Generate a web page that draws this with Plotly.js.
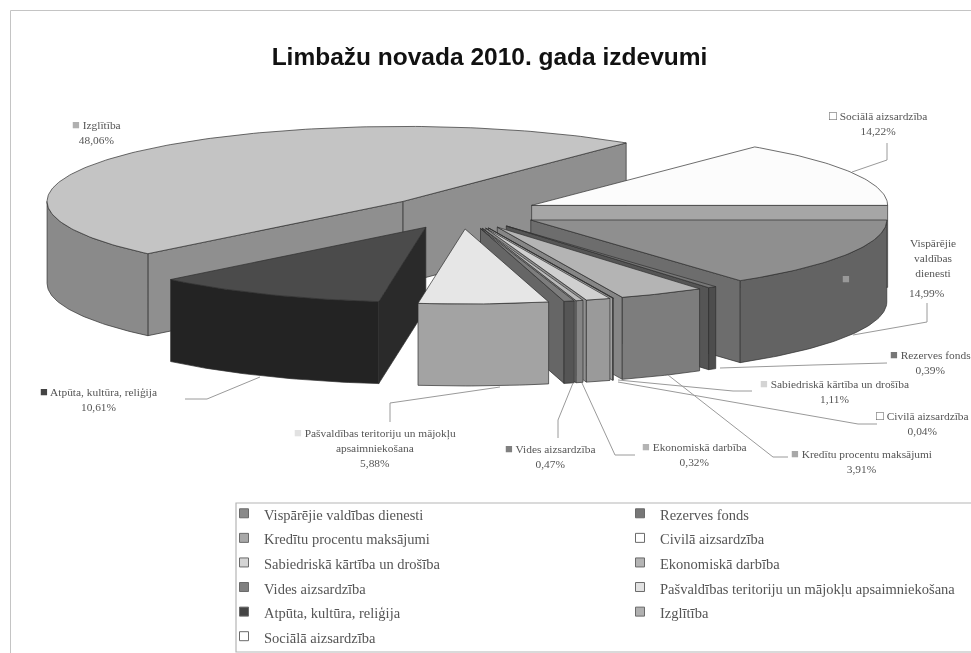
<!DOCTYPE html>
<html><head><meta charset="utf-8">
<script src="https://cdn.plot.ly/plotly-3.0.1.min.js"></script>
<style>html,body{margin:0;padding:0;background:#fff}#c{width:971px;height:653px;filter:blur(0.45px)}</style>
</head><body><div id="c"></div>
<script>
const names = ["Vispārējie valdības dienesti","Rezerves fonds","Kredītu procentu maksājumi","Civilā aizsardzība","Sabiedriskā kārtība un drošība","Ekonomiskā darbība","Vides aizsardzība","Pašvaldības teritoriju un mājokļu apsaimniekošana","Atpūta, kultūra, reliģija","Izglītība","Sociālā aizsardzība"];
const values = [14.99,0.39,3.91,0.04,1.11,0.32,0.47,5.88,10.61,48.06,14.22];
const topColors = ["#8f8f8f","#777777","#b4b4b4","#f5f5f5","#d0d0d0","#b9b9b9","#7d7d7d","#e6e6e6","#4b4b4b","#c4c4c4","#fcfcfc"];
const wallColors = ["#636363","#4d4d4d","#7d7d7d","#a0a0a0","#9a9a9a","#858585","#555555","#a3a3a3","#232323","#8a8a8a","#a6a6a6"];
const faceColors = ["#6d6d6d","#555555","#868686","#a0a0a0","#909090","#8a8a8a","#666666","#a3a3a3","#2a2a2a","#8f8f8f","#a6a6a6"];
const paintOrder = [9,10,8,0,1,2,3,4,5,6,7];
const legendCol1 = [0,2,4,6,8,10];
const legendCol2 = [1,3,5,7,9];
const keyColors = ["#8a8a8a","#777777","#a8a8a8","#ffffff","#d4d4d4","#b4b4b4","#808080","#e2e2e2","#444444","#b0b0b0","#ffffff"];

/* projection of the exploded 3-D pie */
const CX=461, CY=212.5, RX=356, RY=75, H=82, EXPLODE=0.22, START=90;
const rad=d=>d*Math.PI/180;
const total=values.reduce((a,b)=>a+b,0);
let acc=START;
const slices=values.map(v=>{const s=acc;acc+=v/total*360;return{s,e:acc};});
const traces=[];
function poly(xs,ys,color){
  traces.push({type:"scatter",mode:"lines",x:xs.concat(xs[0]),y:ys.concat(ys[0]),fill:"toself",fillcolor:color,
    line:{color:"#2f2f2f",width:0.7},hoverinfo:"skip",showlegend:false});
}
function rim(ax,ay,a){return [ax+RX*Math.sin(rad(a)),ay-RY*Math.cos(rad(a))];}
function arc(ax,ay,s,e){const pts=[];const n=Math.max(2,Math.ceil((e-s)));for(let i=0;i<=n;i++)pts.push(rim(ax,ay,s+(e-s)*i/n));return pts;}
paintOrder.forEach(i=>{
  const {s,e}=slices[i],m=(s+e)/2;
  const ax=CX+EXPLODE*RX*Math.sin(rad(m)), ay=CY-EXPLODE*RY*Math.cos(rad(m));
  [[s,Math.sin(rad(s))<0],[e,Math.sin(rad(e))>0]].forEach(([a,vis])=>{
    if(!vis)return;
    const p=rim(ax,ay,a);
    poly([ax,p[0],p[0],ax],[ay,p[1],p[1]+H,ay+H],faceColors[i]);
  });
  for(let k=0;k<2;k++){
    const lo=Math.max(s,90+360*k),hi=Math.min(e,270+360*k);
    if(hi>lo){
      const p=arc(ax,ay,lo,hi),xs=p.map(q=>q[0]),ys=p.map(q=>q[1]);
      poly(xs.concat(xs.slice().reverse()),ys.concat(ys.slice().reverse().map(y=>y+H)),wallColors[i]);
    }
  }
  const p=arc(ax,ay,s,e);
  poly([ax].concat(p.map(q=>q[0])),[ay].concat(p.map(q=>q[1])),topColors[i]);
});
function legendTrace(i,leg){
  traces.push({type:"scatter",mode:"markers",x:[null],y:[null],name:'<span style="font-size:14.5px">'+names[i]+'</span>',legend:leg,
    marker:{symbol:"square",size:9,color:keyColors[i],line:{color:"#6a6a6a",width:1}},hoverinfo:"skip"});
}
legendCol1.forEach(i=>legendTrace(i,"legend"));
legendCol2.forEach(i=>legendTrace(i,"legend2"));

const pct=i=>values[i].toFixed(2).replace(".",",")+"%";
const key=i=>'<span style="font-size:13px;color:'+(keyColors[i]==="#ffffff"?"#555":keyColors[i])+'">'+(keyColors[i]==="#ffffff"?"□":"■")+'</span> ';
const TXT={family:"Liberation Serif",size:11.4,color:"#555"};
function note(x,y,text){return {x,y,xref:"x",yref:"y",text,showarrow:false,font:TXT,xanchor:"center",yanchor:"middle",align:"center"};}
const annotations=[
 note(96,131,key(9)+names[9]+"<br>"+pct(9)),
 note(878,122,key(10)+names[10]+"<br>"+pct(10)),
 note(933,258,"Vispārējie<br>valdības<br>dienesti"),
 note(927,293,pct(0)),
 note(846,278,'<span style="font-size:13px;color:#999">■</span>'),
 note(930,361,key(1)+names[1]+"<br>"+pct(1)),
 note(834,390,key(4)+names[4]+"<br>"+pct(4)),
 note(922,422,key(3)+names[3]+"<br>"+pct(3)),
 note(861,460,key(2)+names[2]+"<br>"+pct(2)),
 note(694,453,key(5)+names[5]+"<br>"+pct(5)),
 note(550,455,key(6)+names[6]+"<br>"+pct(6)),
 note(375,447,key(7)+"Pašvaldības teritoriju un mājokļu<br>apsaimniekošana<br>"+pct(7)),
 note(98,398,key(8)+names[8]+"<br>"+pct(8))
];
const leaders=[
 "M185,399L207,399L260,377","M390,422L390,403L500,387","M558,438L558,420L573,383","M635,455L615,455L582,383",
 "M788,457L773,457L668,375","M877,424L858,424L618,382","M752,391L733,391L618,380","M887,363L813,365L720,368",
 "M927,303L927,322L853,335","M887,143L887,160L852,172"
];
const shapes=leaders.map(path=>({type:"path",path,xref:"x",yref:"y",line:{color:"#9a9a9a",width:1}}));
shapes.push({type:"rect",xref:"x",yref:"y",x0:10.5,y0:10.5,x1:985,y1:670,line:{color:"#c4c4c4",width:1},layer:"below"});
shapes.push({type:"rect",xref:"x",yref:"y",x0:236,y0:503,x1:985,y1:652,line:{color:"#b5b5b5",width:1.2},fillcolor:"rgba(0,0,0,0)"});
const legFont={family:"Liberation Serif",size:16.6,color:"#555"};
const layout={
 width:971,height:653,margin:{l:0,r:0,t:0,b:0,autoexpand:false},paper_bgcolor:"#fff",plot_bgcolor:"#fff",
 title:{text:"Limbažu novada 2010. gada izdevumi",x:489.5/971,xanchor:"center",y:1-56/653,yanchor:"middle",automargin:false,
   font:{family:"Liberation Sans",size:24.5,color:"#111",weight:"bold"}},
 xaxis:{visible:false,range:[0,971],fixedrange:true},
 yaxis:{visible:false,range:[653,0],fixedrange:true},
 showlegend:true,
 legend:{x:224/971,xanchor:"left",y:1-496/653,yanchor:"top",font:legFont,bgcolor:"rgba(0,0,0,0)",borderwidth:0,tracegroupgap:0},
 legend2:{x:620/971,xanchor:"left",y:1-496/653,yanchor:"top",font:legFont,bgcolor:"rgba(0,0,0,0)",borderwidth:0,tracegroupgap:0},
 annotations,shapes
};
Plotly.newPlot("c",traces,layout,{displayModeBar:false,staticPlot:true});
</script></body></html>
